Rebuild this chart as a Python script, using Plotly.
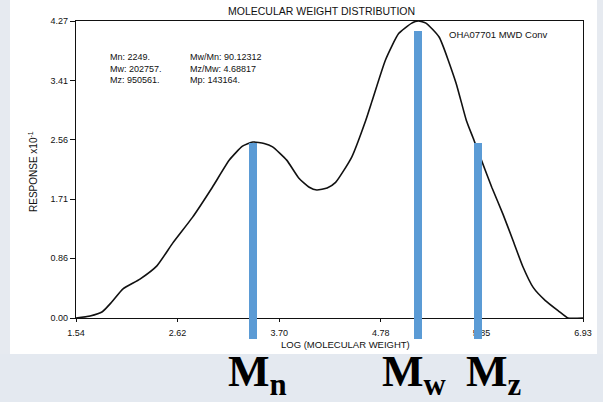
import plotly.graph_objects as go

# ---- data ----
log_mw = [1.54, 1.69, 1.82, 1.92, 2.04, 2.22, 2.40, 2.57, 2.78, 2.99, 3.17, 3.31, 3.42, 3.54,
          3.63, 3.78, 3.91, 4.02, 4.10, 4.21, 4.30, 4.47, 4.62, 4.69, 4.83, 4.97, 5.11, 5.18,
          5.26, 5.40, 5.58, 5.69, 5.77, 5.85, 5.96, 6.08, 6.19, 6.29, 6.40, 6.53, 6.67, 6.77, 6.93]
response = [0.00, 0.03, 0.09, 0.23, 0.42, 0.56, 0.75, 1.08, 1.45, 1.88, 2.27, 2.47, 2.53, 2.51,
            2.46, 2.27, 2.01, 1.88, 1.84, 1.87, 1.95, 2.31, 2.84, 3.13, 3.71, 4.09, 4.24, 4.27,
            4.24, 4.04, 3.38, 2.84, 2.56, 2.27, 1.88, 1.49, 1.10, 0.74, 0.44, 0.25, 0.10, 0.00, 0.00]

x_ticks = [1.54, 2.62, 3.70, 4.78, 5.85, 6.93]
y_ticks = [0.00, 0.86, 1.71, 2.56, 3.41, 4.27]

avg_names = ["<b>M<sub>n</sub></b>", "<b>M<sub>w</sub></b>", "<b>M<sub>z</sub></b>"]
avg_x = [3.42, 5.18, 5.81]          # bar positions (log MW)
avg_top = [2.51, 4.13, 2.51]        # bar tops (response)
avg_base = -0.30                    # bars run below the axis
avg_label_x = [3.13, 4.77, 5.67]    # left edge of big labels

stats_left = ["Mn: 2249.", "Mw: 202757.", "Mz: 950561."]
stats_right = ["Mw/Mn: 90.12312", "Mz/Mw: 4.68817", "Mp: 143164."]
stats_y = [3.75, 3.58, 3.42]

title = "MOLECULAR WEIGHT DISTRIBUTION"
sample = "OHA07701 MWD Conv"
x_title = "LOG (MOLECULAR WEIGHT)"
y_title = "RESPONSE x10<sup>-1</sup>"

# ---- figure ----
Y_MAX = 4.27
BOTTOM_FRAC = 21 / 318
Y2_MIN = -Y_MAX * 21 / 297

BLUE = "#5B9BD5"
FONT = "Liberation Sans, Arial, sans-serif"

fig = go.Figure()
fig.add_trace(go.Scatter(x=log_mw, y=response, mode="lines",
                         line=dict(color="#111111", width=1.6, shape="spline", smoothing=0.5),
                         hoverinfo="skip", showlegend=False))
fig.add_trace(go.Bar(x=avg_x, y=[t - avg_base for t in avg_top], base=avg_base,
                     width=0.085, marker=dict(color=BLUE, line=dict(width=0)),
                     yaxis="y2", showlegend=False, hoverinfo="skip"))

annotations = []
for txt, yy in zip(stats_left, stats_y):
    annotations.append(dict(x=1.88, y=yy, xref="x", yref="y", text=txt, showarrow=False,
                            xanchor="left", yanchor="middle",
                            font=dict(family=FONT, size=9, color="#111111")))
for txt, yy in zip(stats_right, stats_y):
    annotations.append(dict(x=2.73, y=yy, xref="x", yref="y", text=txt, showarrow=False,
                            xanchor="left", yanchor="middle",
                            font=dict(family=FONT, size=9, color="#111111")))
annotations.append(dict(x=5.48, y=4.07, xref="x", yref="y", text=sample, showarrow=False,
                        xanchor="left", yanchor="middle",
                        font=dict(family=FONT, size=9.5, color="#111111")))
annotations.append(dict(x=0.485, y=(339 - 11) / 318, xref="paper", yref="paper", text=title,
                        showarrow=False, xanchor="center", yanchor="middle",
                        font=dict(family=FONT, size=10.5, color="#111111")))
annotations.append(dict(x=(345 - 76) / 507, y=(339 - 344) / 318, xref="paper", yref="paper",
                        text=x_title, showarrow=False, xanchor="center", yanchor="middle",
                        font=dict(family=FONT, size=9.5, color="#111111")))
annotations.append(dict(x=(33 - 76) / 507, y=(339 - 172) / 318, xref="paper", yref="paper",
                        text=y_title, showarrow=False, xanchor="center", yanchor="middle",
                        textangle=-90, font=dict(family=FONT, size=10, color="#111111")))
for name, lx in zip(avg_names, avg_label_x):
    annotations.append(dict(x=lx, y=(339 - 374) / 318, xref="x", yref="paper", text=name,
                            showarrow=False, xanchor="left", yanchor="middle",
                            font=dict(family="Liberation Serif, Times New Roman, serif",
                                      size=44, color="#000000")))

shapes = [
    dict(type="rect", xref="paper", yref="paper", x0=-0.16, x1=1.05,
         y0=(339 - 354) / 318, y1=(339 - 410) / 318, fillcolor="#E4E9F0",
         line=dict(width=0), layer="below"),
    dict(type="rect", xref="paper", yref="paper", x0=-0.16, x1=(10 - 76) / 507,
         y0=(339 - 354) / 318, y1=(339 - 0) / 318, fillcolor="#E6EAF0",
         line=dict(width=0), layer="below"),
    dict(type="rect", xref="paper", yref="paper", x0=(597 - 76) / 507, x1=1.05,
         y0=(339 - 354) / 318, y1=(339 - 0) / 318, fillcolor="#E6EAF0",
         line=dict(width=0), layer="below"),
]

fig.update_layout(
    width=603, height=402,
    margin=dict(l=76, r=20, t=21, b=63, pad=0),
    paper_bgcolor="white", plot_bgcolor="rgba(0,0,0,0)",
    font=dict(family=FONT, size=9, color="#111111"),
    showlegend=False,
    bargap=0,
    xaxis=dict(range=[1.54, 6.93], tickvals=x_ticks, ticktext=[f"{v:.2f}" for v in x_ticks],
               showgrid=False, zeroline=False, showline=True, linecolor="#111111",
               linewidth=1.2, mirror=True, ticks="outside", ticklen=3, tickwidth=1,
               tickcolor="#111111", anchor="y", tickfont=dict(size=9),
               ticklabelstandoff=3),
    yaxis=dict(range=[0, Y_MAX], domain=[BOTTOM_FRAC, 1], tickvals=y_ticks,
               ticktext=[f"{v:.2f}" for v in y_ticks], showgrid=False, zeroline=False,
               showline=True, linecolor="#111111", linewidth=1.2, mirror=True,
               ticks="outside", ticklen=5, tickwidth=1, tickcolor="#111111",
               anchor="x", tickfont=dict(size=9)),
    yaxis2=dict(range=[Y2_MIN, Y_MAX], domain=[0, 1], visible=False, anchor="x",
                showgrid=False, zeroline=False),
    annotations=annotations,
    shapes=shapes,
)

fig.write_html("out.html")
